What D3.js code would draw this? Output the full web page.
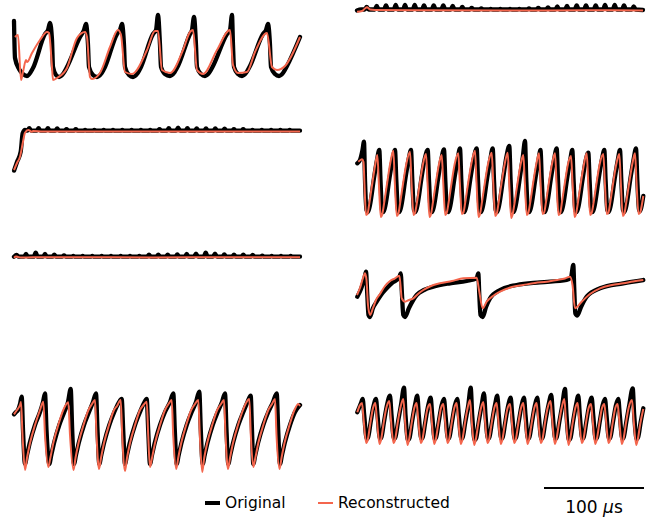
<!DOCTYPE html>
<html>
<head>
<meta charset="utf-8">
<script src="https://cdn.jsdelivr.net/npm/d3@7"></script>
<style>
  body { margin: 0; background: #fff; }
  svg { display: block; }
</style>
</head>
<body>
<div id="chart"></div>
<script>
// traces: [time (µs), voltage (mV)]

const p1Orig = [[1,19],[2,-18],[6,-29],[10,-34],[14,-36],[20,-28],[32,6],[35,10],[37,17],[39,0],[40,-27],[43,-35],[46,-37],[50,-34],[54,-27],[67,3],[71,10],[73,16],[75,-5],[76,-27],[80,-35],[84,-37],[88,-34],[92,-27],[104,6],[107,10],[109,16],[111,-5],[112,-27],[116,-35],[120,-37],[124,-34],[128,-27],[140,6],[143,10],[145,25],[147,-5],[148,-27],[152,-34],[157,-36],[161,-33],[165,-26],[177,6],[179,10],[181,23],[183,-5],[184,-27],[188,-34],[192,-36],[196,-33],[200,-26],[214,6],[217,10],[219,25],[220,-5],[221,-27],[225,-34],[229,-36],[233,-33],[237,-26],[250,6],[253,10],[255,16],[257,-5],[258,-27],[262,-34],[266,-36],[270,-33],[274,-26],[287,3]];
const p1Recon = [[2,3],[5,5],[8,-40],[10,-32],[13,-20],[14,-22],[19,-13],[27,0],[34,8],[36,7],[39,-27],[40,-40],[44,-38],[54,-28],[64,2],[72,8],[74,3],[77,-37],[79,-39],[87,-33],[97,-7],[105,10],[108,5],[112,-32],[119,-34],[134,-10],[142,9],[145,9],[149,-30],[157,-33],[170,-10],[177,8],[180,10],[184,-30],[190,-34],[204,-10],[217,10],[220,-25],[225,-33],[234,-32],[242,-12],[254,7],[259,-27],[264,-30],[272,-26],[287,3]];

const p2Orig = [[0,29.5],[4,30.5],[7.7,30.5],[9.7,33],[11.7,30.5],[17.7,30.5],[19.7,34],[21.7,30.5],[27,30.5],[29,34.5],[31,30.5],[36.7,30.5],[38.7,35],[40.7,30.5],[46,30.5],[48,35],[50,30.5],[55.7,30.5],[57.7,35],[59.7,30.5],[65,30.5],[67,34.5],[69,30.5],[74.7,30.5],[76.7,34.5],[78.7,30.5],[84.3,30.5],[86.3,34.5],[88.3,30.5],[93.7,30.5],[95.7,34],[97.7,30.5],[103.3,30.5],[105.3,33],[107.3,30.5],[112.7,30.5],[114.7,32],[116.7,30.5],[122.3,30.5],[124.3,31.5],[126.3,30.5],[131.7,30.5],[133.7,31],[135.7,30.5],[141.3,30.5],[143.3,31],[145.3,30.5],[151,30.5],[153,31],[155,30.5],[160.3,30.5],[162.3,31],[164.3,30.5],[170,30.5],[172,31.5],[174,30.5],[179.3,30.5],[181.3,32],[183.3,30.5],[189,30.5],[191,32.5],[193,30.5],[198.3,30.5],[200.3,33.5],[202.3,30.5],[208,30.5],[210,34],[212,30.5],[217.7,30.5],[219.7,34.5],[221.7,30.5],[227,30.5],[229,34.5],[231,30.5],[236.7,30.5],[238.7,34.5],[240.7,30.5],[246,30.5],[248,35],[250,30.5],[255.7,30.5],[257.7,35],[259.7,30.5],[265,30.5],[267,34.5],[269,30.5],[274.7,30.5],[276.7,33.5],[278.7,30.5],[286,30]];
const p2Recon = [[0,28.3],[5,29],[8,31.5],[10,32.7],[13,30.5],[18,30],[60,29.7],[150,29.5],[230,29.7],[286,29.5]];

const p3Orig = [[1,-10.7],[4,-2],[7.7,8.3],[9.7,26.7],[12,30],[14.3,29.3],[16.3,31.8],[18.3,29.3],[23.6,29.3],[25.6,31.8],[27.6,29.3],[32.9,29.3],[34.9,31.8],[36.9,29.3],[42.2,29.3],[44.2,31.5],[46.2,29.3],[51.5,29.3],[53.5,30.8],[55.5,29.3],[60.8,29.3],[62.8,30.8],[64.8,29.3],[70.1,29.3],[72.1,30.1],[74.1,29.3],[79.4,29.3],[81.4,30.1],[83.4,29.3],[88.7,29.3],[90.7,30.1],[92.7,29.3],[98,29.3],[100,30.1],[102,29.3],[107.3,29.3],[109.3,30.1],[111.3,29.3],[116.6,29.3],[118.6,30.1],[120.6,29.3],[125.9,29.3],[127.9,30.1],[129.9,29.3],[135.2,29.3],[137.2,30.1],[139.2,29.3],[144.5,29.3],[146.5,30.8],[148.5,29.3],[153.8,29.3],[155.8,31.8],[157.8,29.3],[163.1,29.3],[165.1,32.3],[167.1,29.3],[172.4,29.3],[174.4,31.8],[176.4,29.3],[181.7,29.3],[183.7,31.5],[185.7,29.3],[191,29.3],[193,31.5],[195,29.3],[200.3,29.3],[202.3,31.5],[204.3,29.3],[209.6,29.3],[211.6,31.3],[213.6,29.3],[218.9,29.3],[220.9,30.8],[222.9,29.3],[228.2,29.3],[230.2,30.8],[232.2,29.3],[237.5,29.3],[239.5,30.1],[241.5,29.3],[246.8,29.3],[248.8,30.1],[250.8,29.3],[256.1,29.3],[258.1,30.1],[260.1,29.3],[265.4,29.3],[267.4,30.1],[269.4,29.3],[274.7,29.3],[276.7,30.1],[278.7,29.3],[287,29.3]];
const p3Recon = [[1,-10],[4,-3],[7,3.3],[9.7,16.7],[12,27.3],[15.3,30],[18.7,28.3],[20,29],[30,28.5],[100,28.4],[200,28.5],[287,28.4]];

const p4Orig = [[0.3,-3.3],[3,0],[5.5,10],[7,18.3],[8,-20],[9.5,-50],[11,-52],[13,-45],[17,-18],[20,0],[22.3,10],[23.5,-20],[25,-50],[26.5,-52],[28.5,-45],[32.5,-18],[35.5,0],[38,10],[39.3,-20],[41,-50],[42.5,-52],[44.5,-45],[48.5,-18],[51.5,0],[54,10],[55.3,-20],[57,-50],[58.5,-52],[60.5,-45],[64.5,-18],[67.5,0],[70.7,10],[72,-20],[73.7,-50],[75.2,-52],[77.2,-45],[81.2,-18],[84.2,0],[87,10.7],[88.3,-20],[90,-50],[91.5,-52],[93.5,-45],[97.5,-18],[100.5,0],[103,11.7],[104.3,-20],[106,-50],[107.5,-52],[109.5,-45],[113.5,-18],[116.5,0],[119.7,11.7],[121,-20],[122.7,-50],[124.2,-52],[126.2,-45],[130.2,-18],[133.2,0],[135.7,11.7],[137,-20],[138.7,-50],[140.2,-52],[142.2,-45],[146.2,-18],[149.2,2],[152.3,14],[153.6,-20],[155.3,-50],[156.8,-52],[158.8,-45],[162.8,-18],[165.8,3],[168,19],[169.3,-20],[171,-50],[172.5,-52],[174.5,-45],[178.5,-18],[181.5,0],[183.5,10],[184.8,-20],[186.5,-50],[188,-52],[190,-45],[194,-18],[197,0],[199.7,11.7],[201,-20],[202.7,-50],[204.2,-52],[206.2,-45],[210.2,-18],[213.2,0],[215.3,10],[216.6,-20],[218.3,-50],[219.8,-52],[221.8,-45],[225.8,-18],[228.8,0],[231.3,7.3],[232.6,-20],[234.3,-50],[235.8,-52],[237.8,-45],[241.8,-18],[244.8,0],[247.3,10],[248.6,-20],[250.3,-50],[251.8,-52],[253.8,-45],[257.8,-18],[260.8,0],[263,10],[264.3,-20],[266,-50],[267.5,-52],[269.5,-45],[273.5,-18],[276.5,0],[279,11.7],[280.3,-20],[282,-50],[283.3,-51],[285,-44],[286.3,-36]];
const p4Recon = [[1.3,-1.7],[3.5,0],[5,0.7],[6.5,-2],[7.5,-25],[9,-55],[10.5,-54],[12.5,-42],[15.5,-22],[18,-6],[20.3,5],[21.8,-22],[23.8,-57],[25.3,-54],[27.3,-42],[30.3,-22],[33.3,-3],[36.3,9.3],[37.8,-22],[39.8,-56],[41.3,-54],[43.3,-42],[46.3,-22],[49.3,-4],[53,8.3],[54.5,-22],[56.5,-55],[58,-53],[60,-42],[63,-22],[66,-4],[69,6],[70.5,-22],[72.5,-57],[74,-54],[76,-42],[79,-22],[82,-4],[84.7,5],[86.2,-22],[88.2,-55],[89.7,-53],[91.7,-42],[94.7,-22],[97.7,-4],[101.3,6.7],[102.8,-22],[104.8,-54],[106.3,-53],[108.3,-42],[111.3,-22],[114.3,-4],[118,9.3],[119.5,-22],[121.5,-57],[123,-54],[125,-42],[128,-22],[131,-4],[134.7,7.3],[136.2,-22],[138.2,-56],[139.7,-54],[141.7,-42],[144.7,-22],[147.7,-4],[150.7,7.3],[152.2,-22],[154.2,-58],[155.7,-54],[157.7,-42],[160.7,-22],[163.7,-4],[166.3,5],[167.8,-22],[169.8,-55],[171.3,-53],[173.3,-42],[176.3,-22],[179.3,-4],[182,6.7],[183.5,-22],[185.5,-54],[187,-53],[189,-42],[192,-22],[195,-4],[198,6.7],[199.5,-22],[201.5,-55],[203,-54],[205,-42],[208,-22],[211,-4],[214,4],[215.5,-22],[217.5,-57],[219,-54],[221,-42],[224,-22],[227,-4],[229.7,6.7],[231.2,-22],[233.2,-55],[234.7,-53],[236.7,-42],[239.7,-22],[242.7,-4],[246.3,6],[247.8,-22],[249.8,-54],[251.3,-53],[253.3,-42],[256.3,-22],[259.3,-4],[262.3,6],[263.8,-22],[265.8,-56],[267.3,-54],[269.3,-42],[272.3,-22],[275.3,-4],[278,6.7],[279.5,-22],[281.5,-54],[283,-53],[285,-44],[286.3,-36]];

const p5Orig = [[1,23.3],[3.7,25],[5.7,23.3],[11,23.3],[13,26],[15,23.3],[20.7,23.3],[22.7,27.3],[24.7,23.3],[30,23.3],[32,26],[34,23.3],[39.3,23.3],[41.3,25.3],[43.3,23.3],[49,23.3],[51,24.6],[53,23.3],[58.3,23.3],[60.3,24],[62.3,23.3],[67.7,23.3],[69.7,24],[71.7,23.3],[77.3,23.3],[79.3,24],[81.3,23.3],[86.7,23.3],[88.7,24],[90.7,23.3],[96,23.3],[98,24],[100,23.3],[105.7,23.3],[107.7,24],[109.7,23.3],[115,23.3],[117,24],[119,23.3],[124.3,23.3],[126.3,24],[128.3,23.3],[134,23.3],[136,25.3],[138,23.3],[143.3,23.3],[145.3,25.3],[147.3,23.3],[152.7,23.3],[154.7,25.3],[156.7,23.3],[162.3,23.3],[164.3,25.6],[166.3,23.3],[171.7,23.3],[173.7,26],[175.7,23.3],[181,23.3],[183,26.3],[185,23.3],[190.7,23.3],[192.7,27.3],[194.7,23.3],[200,23.3],[202,26.3],[204,23.3],[209.3,23.3],[211.3,25.6],[213.3,23.3],[219,23.3],[221,25.3],[223,23.3],[228.3,23.3],[230.3,25.3],[232.3,23.3],[237.7,23.3],[239.7,25],[241.7,23.3],[247.3,23.3],[249.3,24.3],[251.3,23.3],[256.7,23.3],[258.7,24],[260.7,23.3],[266,23.3],[268,24],[270,23.3],[275.7,23.3],[277.7,24],[279.7,23.3],[287,23.3]];
const p5Recon = [[1,22.3],[3,23.5],[5,23],[8,22.5],[20,22.7],[60,22.8],[140,22.6],[220,22.7],[287,22.7]];

const p6Orig = [[0.3,-16.7],[4,-9],[7.5,2],[9,8.3],[10.3,-15],[11.5,-35],[13,-37],[16,-28],[19.7,-21.7],[24,-15],[29.7,-8.3],[35,-3],[39.7,0],[42.5,3],[43.7,6.7],[45,-15],[46.3,-35],[48,-37],[52,-28],[59.7,-15],[67,-10],[76.3,-6.7],[93,-3.3],[109.7,-1],[119.7,1.7],[121.3,6.7],[122.3,-15],[123.5,-35],[125.7,-37],[129,-27],[133,-18.3],[143,-10],[159.7,-5],[183,-2.3],[209.7,0],[214,3],[216.3,15],[217.3,-10],[218.3,-33.3],[220.3,-35.5],[224,-27],[229.7,-16.7],[243,-8.3],[266.3,-3.3],[286.3,0]];
const p6Recon = [[0,-15],[3,-8],[6,2],[8,6.7],[9.5,0],[11,-25],[13,-35],[16,-28],[19,-20],[23,-14],[28,-6],[33,-1],[38,1.7],[42.3,4.3],[43.5,-5],[44.7,-18.3],[48,-21.7],[52,-20],[56.3,-18.3],[61,-14],[66.3,-10],[74,-6],[83,-3.3],[95,-1],[106.3,1.7],[119.7,2.3],[122,-10],[125.7,-28.3],[129.7,-21.7],[136,-16],[143,-11.7],[155,-7],[166.3,-5],[178,-3],[189.7,-1.7],[200,0],[208,1.5],[213,3.3],[215.5,-5],[218,-28.3],[224.7,-21.7],[233,-14],[243,-8.3],[255,-5],[266.3,-3.3],[276,-1.5],[286.3,0]];

const p7Orig = [[1,-14.3],[3,-12],[5,-10],[7,-4],[8.7,3.3],[10,-30],[12,-64],[14,-55],[17,-42],[22,-25],[27,-12],[30,-2],[32,6.7],[33.5,-30],[36.3,-64],[38.3,-55],[41.3,-42],[46.3,-25],[51.3,-12],[55,-2],[57.7,11],[59.2,-30],[61,-64],[63,-55],[66,-42],[71,-25],[76,-12],[80,-2],[83,6.7],[84.5,-30],[86.3,-64],[88.3,-55],[91.3,-42],[96.3,-25],[101.3,-12],[105.5,-3],[108.7,1],[110.2,-30],[112,-64],[114,-55],[117,-42],[122,-25],[127,-12],[131,-3],[133.7,1],[135.2,-30],[137,-64],[139,-55],[142,-42],[147,-25],[152,-12],[157,-2],[160.3,6.7],[161.8,-30],[163.7,-64],[165.7,-55],[168.7,-42],[173.7,-25],[178.7,-12],[183,-2],[186.3,8.3],[187.8,-30],[189.7,-64],[191.7,-55],[194.7,-42],[199.7,-25],[204.7,-12],[209,-2],[212,6.7],[213.5,-30],[215.3,-64],[217.3,-55],[220.3,-42],[225.3,-25],[230.3,-12],[234.5,-2],[237.7,4.3],[239,-30],[240.3,-64],[242.3,-55],[245.3,-42],[250.3,-25],[255.3,-12],[260,-2],[263.7,6.7],[265.2,-30],[267,-64],[269,-55],[272,-42],[277,-25],[282,-12],[287,-5]];
const p7Recon = [[1,-14.3],[4,-10],[7,-5],[8,-2],[9.5,-35],[12,-70],[14,-58],[17,-43],[22,-25],[27,-10],[30.3,-1.7],[32,-35],[35.3,-67],[37.3,-58],[40.3,-43],[45.3,-25],[50.3,-10],[55.3,-2.3],[57,-35],[60.5,-70],[62.5,-58],[65.5,-43],[70.5,-25],[75.5,-10],[79,-4],[82,0],[83.5,-35],[86,-69],[88,-58],[91,-43],[96,-25],[101,-10],[104,-6],[107.7,0],[109.2,-35],[112,-71],[114,-58],[117,-43],[122,-25],[127,-10],[130.5,-5],[133.7,-1.7],[135.2,-35],[137,-67],[139,-58],[142,-43],[147,-25],[152,-10],[155.5,-4],[158.7,0],[160.2,-35],[163.2,-69],[165.2,-58],[168.2,-43],[173.2,-25],[178.2,-10],[182,-4],[185.3,0],[186.8,-35],[189.2,-72],[191.2,-58],[194.2,-43],[199.2,-25],[204.2,-10],[208,-4],[211,0],[212.5,-35],[215,-69],[217,-58],[220,-43],[225,-25],[230,-10],[233,-3],[236.3,1],[237.8,-35],[240.3,-67],[242.3,-58],[245.3,-43],[250.3,-25],[255.3,-10],[259,-4],[262,1],[263.5,-35],[266.5,-69],[268.5,-58],[271.5,-43],[276.5,-25],[281.5,-10],[285.3,-4],[287,-6]];

const p8Orig = [[0.3,-12.3],[2,-8],[4,-3],[5.7,1],[7.2,-15],[9.7,-39],[11.2,-37],[13.7,-22],[16.5,-6],[19,1],[20.5,-15],[23,-39],[24.5,-37],[27,-22],[30,-5],[33,4.3],[34.5,-15],[37,-39],[38.5,-37],[41,-22],[44,-5],[47,12.3],[48.5,-15],[51,-40],[52.5,-38],[55,-22],[58,-5],[60.3,4.3],[61.8,-15],[64.3,-39],[65.8,-37],[68.3,-22],[71.3,-5],[73.7,2.3],[75.2,-15],[77.7,-39],[79.2,-37],[81.7,-22],[84.7,-5],[87,1],[88.5,-15],[91,-39],[92.5,-37],[95,-22],[98,-5],[100.3,1],[101.8,-15],[104.3,-39],[105.8,-37],[108.3,-22],[111.3,-5],[113.7,12.3],[115.2,-15],[117.7,-40],[119.2,-38],[121.7,-22],[124.7,-5],[127,6.7],[128.5,-15],[131,-39],[132.5,-37],[135,-22],[138,-5],[140.3,4.3],[141.8,-15],[144.3,-39],[145.8,-37],[148.3,-22],[151.3,-5],[153.7,2.3],[155.2,-15],[157.7,-39],[159.2,-37],[161.7,-22],[164.7,-5],[167,2.3],[168.5,-15],[171,-39],[172.5,-37],[175,-22],[178,-5],[180.3,2.3],[181.8,-15],[184.3,-39],[185.8,-37],[188.3,-22],[191.5,-5],[194.3,5],[195.8,-15],[198.3,-39],[199.8,-37],[202.3,-22],[205.3,-5],[208,11],[209.5,-15],[212,-40],[213.5,-38],[216,-22],[219,-5],[221.3,4.3],[222.8,-15],[225.3,-39],[226.8,-37],[229.3,-22],[232.3,-5],[234.7,2.3],[236.2,-15],[238.7,-39],[240.2,-37],[242.7,-22],[245.7,-5],[248,1],[249.5,-15],[252,-39],[253.5,-37],[256,-22],[259,-5],[261.3,1],[262.8,-15],[265.3,-39],[266.8,-37],[269.3,-22],[272.3,-5],[275.7,11.7],[277.2,-15],[279.7,-39],[281.2,-37],[283.7,-22],[286.3,-8.3]];
const p8Recon = [[0.3,-12.3],[2.5,-6],[5,-3],[6.5,-18],[9.2,-43],[10.7,-40],[13.2,-24],[16,-8],[18.3,-3],[19.8,-18],[22.5,-44],[24,-40],[26.5,-24],[29.3,-8],[32.3,-1],[33.8,-18],[36.5,-43],[38,-40],[40.5,-24],[43.3,-8],[46.3,1],[47.8,-18],[50.5,-45],[52,-40],[54.5,-24],[57.3,-8],[59.6,-3],[61.1,-18],[63.8,-43],[65.3,-40],[67.8,-24],[70.6,-8],[73,-4],[74.5,-18],[77.2,-44],[78.7,-40],[81.2,-24],[84,-8],[86.3,-4],[87.8,-18],[90.5,-43],[92,-40],[94.5,-24],[97.3,-8],[99.6,-3],[101.1,-18],[103.8,-44],[105.3,-40],[107.8,-24],[110.6,-8],[113,0],[114.5,-18],[117.2,-45],[118.7,-40],[121.2,-24],[124,-8],[126.3,-2],[127.8,-18],[130.5,-43],[132,-40],[134.5,-24],[137.3,-8],[139.6,-3],[141.1,-18],[143.8,-44],[145.3,-40],[147.8,-24],[150.6,-8],[153,-4],[154.5,-18],[157.2,-43],[158.7,-40],[161.2,-24],[164,-8],[166.3,-3],[167.8,-18],[170.5,-44],[172,-40],[174.5,-24],[177.3,-8],[179.6,-3],[181.1,-18],[183.8,-43],[185.3,-40],[187.8,-24],[190.6,-8],[193.6,-1],[195.1,-18],[197.8,-44],[199.3,-40],[201.8,-24],[204.6,-8],[207.3,1],[208.8,-18],[211.5,-45],[213,-40],[215.5,-24],[218.3,-8],[220.6,-3],[222.1,-18],[224.8,-43],[226.3,-40],[228.8,-24],[231.6,-8],[234,-4],[235.5,-18],[238.2,-44],[239.7,-40],[242.2,-24],[245,-8],[247.3,-4],[248.8,-18],[251.5,-43],[253,-40],[255.5,-24],[258.3,-8],[260.6,-4],[262.1,-18],[264.8,-44],[266.3,-40],[268.8,-24],[271.6,-8],[275,0],[276.5,-18],[279.2,-45],[280.7,-40],[283.2,-24],[286.3,-9]];

const seriesNames = ["Original", "Reconstructed"];
const scaleBarValue = 100; // µs

// layout
const width = 654, height = 517;
const colRange = [[13, 300], [357, 644]];
const rowTop = [0, 120, 240, 360];
const rowH = 120;
const timeDomain = [0, 287];
const voltDomain = [-80, 40];
const origColor = "#000000", reconColor = "#f4664d";

const panels = [
  { row: 0, col: 0, orig: p1Orig, recon: p1Recon },
  { row: 0, col: 1, orig: p2Orig, recon: p2Recon },
  { row: 1, col: 0, orig: p3Orig, recon: p3Recon },
  { row: 1, col: 1, orig: p4Orig, recon: p4Recon },
  { row: 2, col: 0, orig: p5Orig, recon: p5Recon },
  { row: 2, col: 1, orig: p6Orig, recon: p6Recon },
  { row: 3, col: 0, orig: p7Orig, recon: p7Recon },
  { row: 3, col: 1, orig: p8Orig, recon: p8Recon }
];

const svg = d3.select("#chart").append("svg")
  .attr("width", width)
  .attr("height", height)
  .style("font-family", "DejaVu Sans");

panels.forEach(function(p) {
  const x = d3.scaleLinear().domain(timeDomain).range(colRange[p.col]);
  const y = d3.scaleLinear().domain(voltDomain).range([rowTop[p.row] + rowH, rowTop[p.row]]);
  const line = d3.line()
    .x(d => x(d[0]))
    .y(d => y(d[1]))
    .curve(d3.curveMonotoneX);

  const g = svg.append("g");
  g.append("path")
    .datum(p.orig)
    .attr("d", line)
    .attr("fill", "none")
    .attr("stroke", origColor)
    .attr("stroke-width", 4.3)
    .attr("stroke-linejoin", "round")
    .attr("stroke-linecap", "round");
  g.append("path")
    .datum(p.recon)
    .attr("d", line)
    .attr("fill", "none")
    .attr("stroke", reconColor)
    .attr("stroke-width", 2)
    .attr("stroke-linejoin", "round");
});

// scale bar, under the right column
const xr = d3.scaleLinear().domain(timeDomain).range(colRange[1]);
const barY = 488;
svg.append("line")
  .attr("x1", xr(timeDomain[1] - scaleBarValue))
  .attr("x2", xr(timeDomain[1]))
  .attr("y1", barY).attr("y2", barY)
  .attr("stroke", "#000")
  .attr("stroke-width", 2.2);

const barText = svg.append("text")
  .attr("x", (xr(timeDomain[1] - scaleBarValue) + xr(timeDomain[1])) / 2)
  .attr("y", 513)
  .attr("text-anchor", "middle")
  .style("font-size", "17px")
  .attr("fill", "#000");
barText.append("tspan").text(scaleBarValue + " ");
barText.append("tspan").style("font-style", "italic").text("\u03bc");
barText.append("tspan").text("s");

// legend
const legY = 503;
const legItems = [
  { name: seriesNames[0], color: origColor, w: 4, x: 205 },
  { name: seriesNames[1], color: reconColor, w: 2, x: 318 }
];
legItems.forEach(function(d) {
  svg.append("line")
    .attr("x1", d.x).attr("x2", d.x + 15)
    .attr("y1", legY).attr("y2", legY)
    .attr("stroke", d.color)
    .attr("stroke-width", d.w);
  svg.append("text")
    .attr("x", d.x + 20)
    .attr("y", legY + 5)
    .style("font-size", "15.5px")
    .attr("fill", "#000")
    .text(d.name);
});
</script>
</body>
</html>
